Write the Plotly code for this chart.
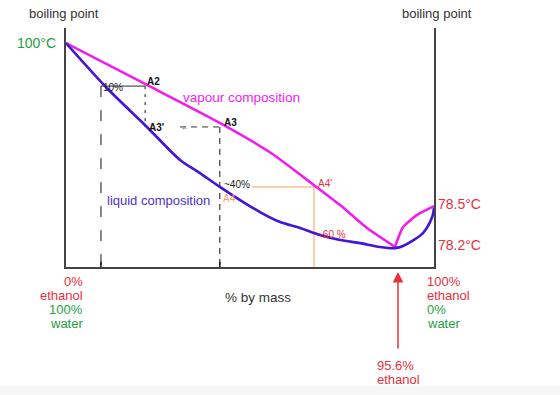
import plotly.graph_objects as go

# ---- data (chart units: x 0-100 across the axis, y 0-100 up the axis) ----
vap_x = [0, 21.5, 41.8, 55.4, 67.7, 74.5, 81.8, 89.4, 91.6, 95.4, 100]
vap_y = [93.7, 76.6, 60.3, 48.0, 33.9, 25.9, 16.3, 8.4, 16.7, 21.8, 25.5]

liq_x = [0, 11.1, 22.0, 31.0, 36.4, 41.8, 47.3, 52.7, 58.2, 63.6, 69.0, 74.5,
         79.9, 85.3, 89.4, 91.6, 97.0, 99.5, 100]
liq_y = [93.7, 74.9, 58.6, 44.8, 39.3, 33.5, 28.0, 23.0, 18.8, 16.3, 13.4, 11.3,
         10.0, 8.4, 7.9, 8.8, 14.2, 20.9, 24.7]

# construction points
x10, xA2, xA3, xA4p = 9.5, 21.5, 41.8, 67.4
y10, yA3, yA4 = 75.7, 58.6, 33.5
x_arrow_start, x_orange_start = 31.0, 50.5

RED = "#e8303a"
GREEN = "#25a044"
MAG = "#f01cf0"
BLUE = "#4414d8"
ORANGE = "#f6a062"
DARK = "#333333"
FONT = "Liberation Sans, Arial, sans-serif"

fig = go.Figure()
imin = vap_y.index(min(vap_y))
fig.add_trace(go.Scatter(x=vap_x[:imin + 1], y=vap_y[:imin + 1], mode="lines",
                         line=dict(color=MAG, width=2.6, shape="spline", smoothing=0.6),
                         hoverinfo="skip"))
fig.add_trace(go.Scatter(x=vap_x[imin:], y=vap_y[imin:], mode="lines",
                         line=dict(color=MAG, width=2.6, shape="spline", smoothing=0.6),
                         hoverinfo="skip"))
fig.add_trace(go.Scatter(x=liq_x, y=liq_y, mode="lines",
                         line=dict(color=BLUE, width=2.6, shape="spline", smoothing=0.8),
                         hoverinfo="skip"))

shapes = []
def seg(x0, y0, x1, y1, color, width=1, dash="solid"):
    shapes.append(dict(type="line", xref="x", yref="y", x0=x0, y0=y0, x1=x1, y1=y1,
                       line=dict(color=color, width=width, dash=dash), layer="below"))

seg(x10, y10, xA2, y10, "#555555", 1.2)
seg(x10, y10, x10, 0, "#111111", 1, "11px,13px")
seg(xA2, y10, xA2, yA3, "#111111", 1, "3px,5px")
seg(x_arrow_start, yA3, xA3, yA3, "#333333", 1, "6px,5px")
seg(xA3, yA3, xA3, 0, "#111111", 1, "6px,5px")
seg(x_orange_start, yA4, xA4p, yA4, ORANGE, 1)
seg(xA4p, yA4, xA4p, 0, ORANGE, 1)
seg(x10, 0, x10, 2.2, "#111111", 1.5)
seg(xA3, 0, xA3, 2.2, "#111111", 1.5)

# light grey band at the bottom of the picture
shapes.append(dict(type="rect", xref="paper", yref="paper", x0=-0.3, x1=1.4,
                   y0=-0.536, y1=-0.497, fillcolor="#f6f6f6", line=dict(width=0),
                   layer="below"))

ann = []
def txt(x, y, s, color, size, ref="x", xanchor="left", bold=False, yanchor="middle"):
    if bold:
        s = "<b>" + s + "</b>"
    ann.append(dict(x=x, y=y, xref=ref if ref == "x" else "paper",
                    yref="y" if ref == "x" else "paper", text=s, showarrow=False,
                    xanchor=xanchor, yanchor=yanchor,
                    font=dict(color=color, size=size, family=FONT)))

# in-plot labels
txt(21.5, 77.8, "A2", "#111111", 10, bold=True)
txt(9.6, 75.3, "10%", "#222222", 10)
txt(22.0, 58.2, "A3'", "#111111", 10, bold=True)
txt(42.4, 60.3, "A3", "#111111", 10, bold=True)
txt(30.6, 58.2, "←", "#444444", 8)
txt(42.1, 28.7, "A4", ORANGE, 10)
txt(42.5, 34.4, "~40%", "#222222", 10)
txt(67.9, 35.1, "A4'", RED, 10)
txt(67.6, 13.4, "~60 %", RED, 10)
txt(31.3, 71.1, "vapour composition", MAG, 13.5)
txt(10.7, 28.0, "liquid composition", "#5030d0", 13)

# labels outside the axes (paper coordinates)
def px(xp):
    return (xp - 66) / 368.0
def py(yp):
    return (267 - yp) / 239.0

txt(px(64), py(14), "boiling point", DARK, 13, ref="paper", xanchor="center")
txt(px(437), py(14), "boiling point", DARK, 13, ref="paper", xanchor="center")
txt(px(58), py(43), "100°C", GREEN, 14, ref="paper", xanchor="right")
txt(px(436), py(204), "78.5°C", RED, 14, ref="paper")
txt(px(436), py(245), "78.2°C", RED, 14, ref="paper")
txt(px(258), py(297), "% by mass", DARK, 13.5, ref="paper", xanchor="center")

left_lines = [("0%", RED), ("ethanol", RED), ("100%", GREEN), ("water", GREEN)]
right_lines = [("100%", RED), ("ethanol", RED), ("0%", GREEN), ("water", GREEN)]
line_y = [281, 295, 309, 323]
for (s, c), yy in zip(left_lines, line_y):
    txt(px(85), py(yy), s, c, 13, ref="paper", xanchor="right")
for (s, c), yy in zip(right_lines, line_y):
    txt(px(425), py(yy), s, c, 13, ref="paper")
txt(px(375), py(365), "95.6%", RED, 13, ref="paper")
txt(px(375), py(379), "ethanol", RED, 13, ref="paper")

# azeotrope arrow
ann.append(dict(x=px(398), y=py(272), xref="paper", yref="paper", text="",
                showarrow=True, axref="pixel", ayref="pixel", ax=0, ay=78,
                arrowhead=2, arrowsize=1.4, arrowwidth=1.5, arrowcolor=RED))

fig.update_layout(
    width=560, height=395,
    margin=dict(l=66, r=126, t=28, b=128),
    paper_bgcolor="white", plot_bgcolor="white",
    showlegend=False,
    shapes=shapes, annotations=ann,
    xaxis=dict(range=[0, 100], showgrid=False, zeroline=False, showticklabels=False,
               ticks="", showline=True, linecolor="#444444", linewidth=1.5, mirror=False,
               fixedrange=True),
    yaxis=dict(range=[0, 100], showgrid=False, zeroline=False, showticklabels=False,
               ticks="", showline=True, linecolor="#444444", linewidth=1.5, mirror=True,
               fixedrange=True),
)
fig.write_html("out.html", config={"displayModeBar": False})
